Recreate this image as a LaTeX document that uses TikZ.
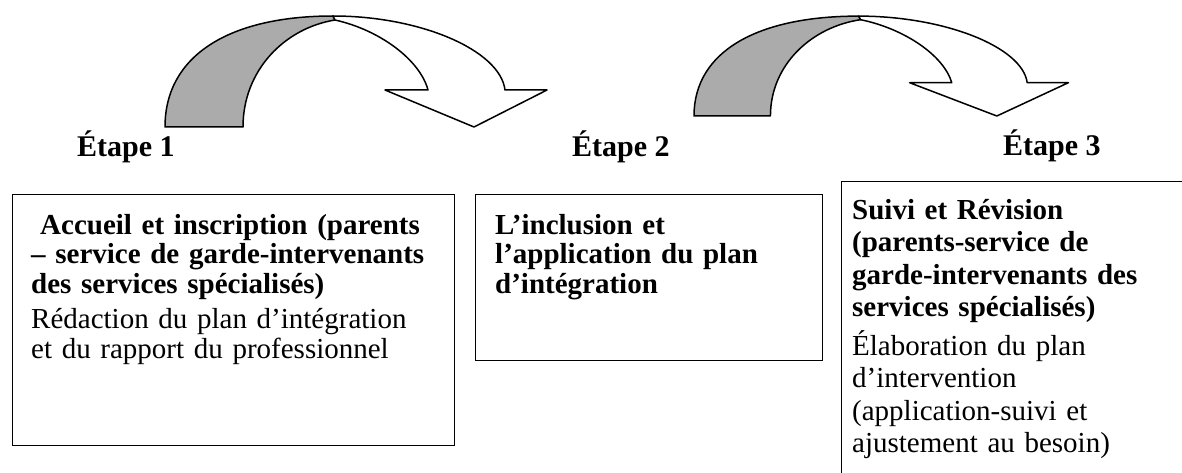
\documentclass[tikz,border=0pt]{standalone}
\usepackage{fontspec}
\setmainfont{Liberation Serif}
\begin{document}
\begin{tikzpicture}[x=1pt,y=-1pt,
  lbl/.style={anchor=base west, inner sep=0pt, font=\fontsize{30}{36}\selectfont\bfseries},
  boxtext/.style={anchor=base west, inner sep=0pt, text width=#1, align=left},
  framebox/.style={draw=black, line width=1.1pt, anchor=north west, inner sep=0pt},
  band/.style={draw=black, line width=1.5pt, line join=round},
  pics/curvarrow/.style={code={
    \path[band, fill=black!33] (0,0) -- (78,0) .. controls (78,-57) and (120,-99) .. (170,-107) -- (168,-111) .. controls (65,-111) and (0,-72) .. (0,0) -- cycle;
    \path[band, fill=white] (168,-111) .. controls (255,-111) and (335,-77) .. (340,-37) -- (382,-37) -- (309,0) -- (220,-37) -- (263,-37) .. controls (255,-67) and (215,-97) .. (170,-107) -- cycle;
  }}]
\clip (0,0) rectangle (1182,473);
\fill[white] (0,0) rectangle (1182,473);

\pic at (165,127) {curvarrow};
\pic[xscale=0.98,yscale=0.9] at (694,116) {curvarrow};

\node[lbl] (e1) at (77,157) {Étape 1};
\node[lbl] (e2) at (572,157) {Étape 2};
\node[lbl] (e3) at (1003,156) {Étape 3};

\node[framebox, minimum width=442pt, minimum height=251pt] (b1) at (12,194) {};
\node[framebox, minimum width=347pt, minimum height=166pt] (b2) at (475,194) {};
\node[framebox, minimum width=360pt, minimum height=320pt] (b3) at (841,181) {};

\node[boxtext=415pt, font=\fontsize{29}{29.5}\selectfont] (t1) at (31,234)
  {{\bfseries\hspace*{9pt}Accueil et inscription (parents\\– service de garde-intervenants\\des services spécialisés)}\\[6pt]Rédaction du plan d’intégration\\et du rapport du professionnel};
\node[boxtext=320pt, font=\fontsize{29}{29.5}\selectfont\bfseries] (t2) at (495,234)
  {L’inclusion et\\l’application du plan\\d’intégration};
\node[boxtext=325pt, font=\fontsize{29}{32.5}\selectfont] (t3) at (852,219)
  {{\bfseries Suivi et Révision\\(parents-service de\\garde-intervenants des\\services spécialisés)}\\[6pt]Élaboration du plan\\d’intervention\\(application-suivi et\\ajustement au besoin)};
\end{tikzpicture}
\end{document}
